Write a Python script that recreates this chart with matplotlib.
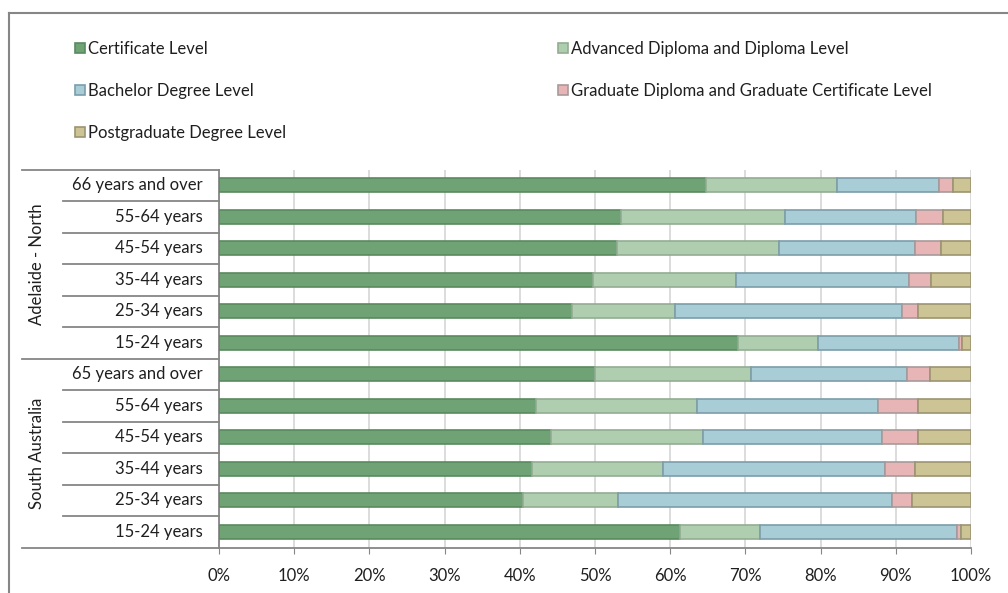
import matplotlib
matplotlib.use("Agg")
import matplotlib.pyplot as plt
from matplotlib.lines import Line2D
import numpy as np

plt.rcParams['font.family'] = ['Lato', 'DejaVu Sans']

# Age groups (top to bottom within each region)
age_north = ["66 years and over", "55-64 years", "45-54 years",
             "35-44 years", "25-34 years", "15-24 years"]
age_sa = ["65 years and over", "55-64 years", "45-54 years",
          "35-44 years", "25-34 years", "15-24 years"]
regions = ["Adelaide - North", "South Australia"]

series = ["Certificate Level",
          "Advanced Diploma and Diploma Level",
          "Bachelor Degree Level",
          "Graduate Diploma and Graduate Certificate Level",
          "Postgraduate Degree Level"]

# Share (%) of each qualification level, rows in the same order as the age lists
certificate_north = [64.7, 53.4, 52.9, 49.7, 46.9, 69.0]
advanced_north = [17.5, 21.9, 21.6, 19.1, 13.7, 10.7]
bachelor_north = [13.5, 17.4, 18.1, 23.0, 30.2, 18.7]
graddip_north = [1.9, 3.6, 3.4, 2.9, 2.2, 0.4]
postgrad_north = [2.4, 3.7, 4.0, 5.3, 7.0, 1.2]

certificate_sa = [50.0, 42.1, 44.2, 41.6, 40.4, 61.3]
advanced_sa = [20.7, 21.5, 20.1, 17.5, 12.6, 10.7]
bachelor_sa = [20.8, 24.0, 23.9, 29.5, 36.5, 26.1]
graddip_sa = [3.0, 5.4, 4.8, 4.0, 2.7, 0.6]
postgrad_sa = [5.5, 7.0, 7.0, 7.4, 7.8, 1.3]

x_ticks = [0, 10, 20, 30, 40, 50, 60, 70, 80, 90, 100]

fills = ["#6fa275", "#afcdaf", "#a8cdd7", "#e7b5b6", "#cdc495"]
edges = ["#5a8a5f", "#93ad93", "#7c9eaa", "#a89a9a", "#9c9470"]

FS = 12
TXT = "#1f1f1f"

labels = age_north + age_sa
values = np.array([
    certificate_north + certificate_sa,
    advanced_north + advanced_sa,
    bachelor_north + bachelor_sa,
    graddip_north + graddip_sa,
    postgrad_north + postgrad_sa,
])
n = len(labels)
y = np.arange(n)[::-1]  # first label at the top

W, H = 1008, 593
fig = plt.figure(figsize=(W / 100, H / 100), dpi=100)
ax = fig.add_axes([219 / W, 1 - 547.5 / H, (971 - 219) / W, (547.5 - 169.5) / H])

left = np.zeros(n)
handles = []
for vals, name, fc, ec in zip(values, series, fills, edges):
    b = ax.barh(y, vals, left=left, height=0.46, color=fc, edgecolor=ec,
                linewidth=1.2, label=name, zorder=3)
    handles.append(b)
    left = left + vals

ax.set_xlim(0, 100)
ax.set_ylim(-0.5, n - 0.5)
ax.set_xticks(x_ticks)
ax.set_xticklabels([f"{t}%" for t in x_ticks], fontsize=FS, color=TXT)
ax.tick_params(axis="x", length=4, color="#868686", pad=11)
ax.set_yticks([])
ax.grid(axis="x", color="#d9d9d9", linewidth=1.3, zorder=0)
for s in ["top", "right"]:
    ax.spines[s].set_visible(False)
for s in ["left", "bottom"]:
    ax.spines[s].set_color("#868686")
    ax.spines[s].set_linewidth(1.3)

# Category labels and separators drawn left of the plot area
row_h = (547.5 - 169.5) / n
for i, lab in enumerate(labels):
    yc = 169.5 + row_h * (i + 0.5)
    fig.text(203 / W, 1 - yc / H, lab, ha="right", va="center",
             fontsize=FS, color=TXT)
for i in range(n + 1):
    yb = 169.5 + row_h * i
    x0 = 22 if i % 6 == 0 else 63
    fig.add_artist(Line2D([x0 / W, 219 / W], [1 - yb / H, 1 - yb / H],
                          color="#868686", linewidth=1.3))
for g, reg in enumerate(regions):
    yc = 169.5 + row_h * (6 * g + 3)
    fig.text(37 / W, 1 - yc / H, reg, rotation=90, ha="center", va="center",
             fontsize=FS, color=TXT)

# Outer frame (top and left edges visible)
fig.add_artist(Line2D([8.5 / W, 1], [1 - 12.5 / H, 1 - 12.5 / H],
                      color="#868686", linewidth=1.5))
fig.add_artist(Line2D([8.5 / W, 8.5 / W], [0, 1 - 12.5 / H],
                      color="#868686", linewidth=1.5))

# Legend: two columns, filled row by row
order = [0, 2, 4, 1, 3]
leg = fig.legend([handles[i] for i in order], [series[i] for i in order],
                 ncol=2, loc="upper left", bbox_to_anchor=(75 / W, 1 - 41 / H),
                 frameon=False, fontsize=FS, handlelength=0.6,
                 handleheight=0.6, handletextpad=0.2, labelspacing=1.55,
                 columnspacing=16.3, borderaxespad=0, borderpad=0)
for t in leg.get_texts():
    t.set_color(TXT)

fig.savefig("out.png", dpi=100)
